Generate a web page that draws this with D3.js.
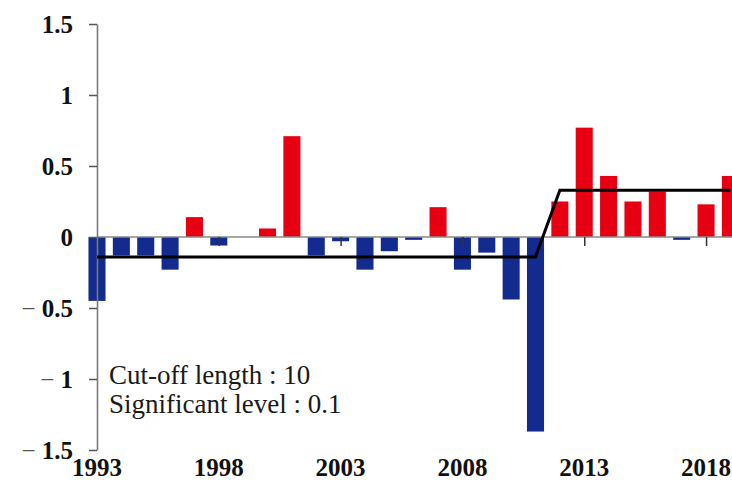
<!DOCTYPE html>
<html>
<head>
<meta charset="utf-8">
<script src="https://cdn.jsdelivr.net/npm/d3@7"></script>
<style>
  html, body { margin: 0; padding: 0; background: #fff; }
  svg { display: block; }
  text { font-family: "Liberation Serif", "Times New Roman", serif; }
</style>
</head>
<body>
<svg id="chart" width="732" height="480"></svg>
<script>
// Annual anomalies, 1993–2019
const years = [1993,1994,1995,1996,1997,1998,1999,2000,2001,2002,2003,2004,2005,2006,
               2007,2008,2009,2010,2011,2012,2013,2014,2015,2016,2017,2018,2019];
const values = [-0.45,-0.13,-0.13,-0.23,0.14,-0.06,0.0,0.06,0.71,-0.13,-0.03,-0.23,-0.10,-0.02,
                0.21,-0.23,-0.11,-0.44,-1.37,0.25,0.77,0.43,0.25,0.32,-0.02,0.23,0.43];

// Sub-period means detected by the change-point test
const meanYears = [1993, 2011, 2012, 2019];
const meanValues = [-0.14, -0.14, 0.33, 0.33];

const yTicks = [-1.5, -1, -0.5, 0, 0.5, 1, 1.5];
const xTicks = [1993, 1998, 2003, 2008, 2013, 2018];
const notes = ["Cut-off length : 10", "Significant level : 0.1"];

const svg = d3.select("#chart");

const x = d3.scaleLinear().domain([1993, 2019]).range([97, 730.4]);
const y = d3.scaleLinear().domain([-1.5, 1.5]).range([450, 24]);
const step = x(1994) - x(1993);
const barW = step * 0.7;

// bars
svg.append("g").selectAll("rect")
  .data(years.map((yr, i) => ({ yr, v: values[i] })))
  .join("rect")
  .attr("x", d => x(d.yr) - barW / 2)
  .attr("y", d => y(Math.max(0, d.v)))
  .attr("width", barW)
  .attr("height", d => Math.abs(y(d.v) - y(0)))
  .attr("fill", d => d.v >= 0 ? "#e60012" : "#132a8e");

// zero line with downward year ticks
const xAxis = svg.append("g")
  .attr("transform", `translate(0,${y(0)})`)
  .call(d3.axisBottom(x).tickValues(xTicks).tickSize(9).tickSizeOuter(0).tickFormat(""));
xAxis.select(".domain").attr("stroke", "#8a8a8a").attr("stroke-width", 1.5)
  .attr("d", `M${x(1993)},0H732`);
xAxis.selectAll(".tick line").attr("stroke", "#333").attr("stroke-width", 1.5);

// year labels along the bottom
svg.append("g").selectAll("text")
  .data(xTicks)
  .join("text")
  .attr("x", d => x(d))
  .attr("y", 476)
  .attr("text-anchor", "middle")
  .attr("font-size", 25)
  .attr("font-weight", "bold")
  .attr("fill", "#111")
  .text(d => d);

// value axis
const yAxis = svg.append("g")
  .attr("transform", `translate(${x(1993)},0)`)
  .call(d3.axisLeft(y).tickValues(yTicks).tickSize(8).tickSizeOuter(0).tickPadding(16).tickFormat(""));
yAxis.select(".domain").attr("stroke", "#7a7a7a").attr("stroke-width", 1.6);
yAxis.selectAll(".tick line").attr("stroke", "#555").attr("stroke-width", 1.5);

const fmt = v => String(Math.abs(v));
const lab = yAxis.selectAll(".tick").append("text")
  .attr("x", -24)
  .attr("dy", "0.34em")
  .attr("text-anchor", "end")
  .attr("font-size", 25)
  .attr("font-weight", "bold")
  .attr("fill", "#111");
lab.filter(d => d < 0).append("tspan")
  .attr("font-weight", "normal")
  .attr("fill", "#555")
  .text("\u2212 ");
lab.append("tspan").text(d => fmt(d));

// step line of sub-period means
svg.append("path")
  .datum(meanYears.map((yr, i) => [yr, meanValues[i]]))
  .attr("fill", "none")
  .attr("stroke", "#000")
  .attr("stroke-width", 3)
  .attr("stroke-linejoin", "miter")
  .attr("d", d3.line().x(d => x(d[0])).y(d => y(d[1])));

// test settings
svg.append("g").selectAll("text")
  .data(notes)
  .join("text")
  .attr("x", 109)
  .attr("y", (d, i) => 384 + i * 29)
  .attr("font-size", 27)
  .attr("fill", "#1a1a1a")
  .text(d => d);
</script>
</body>
</html>
